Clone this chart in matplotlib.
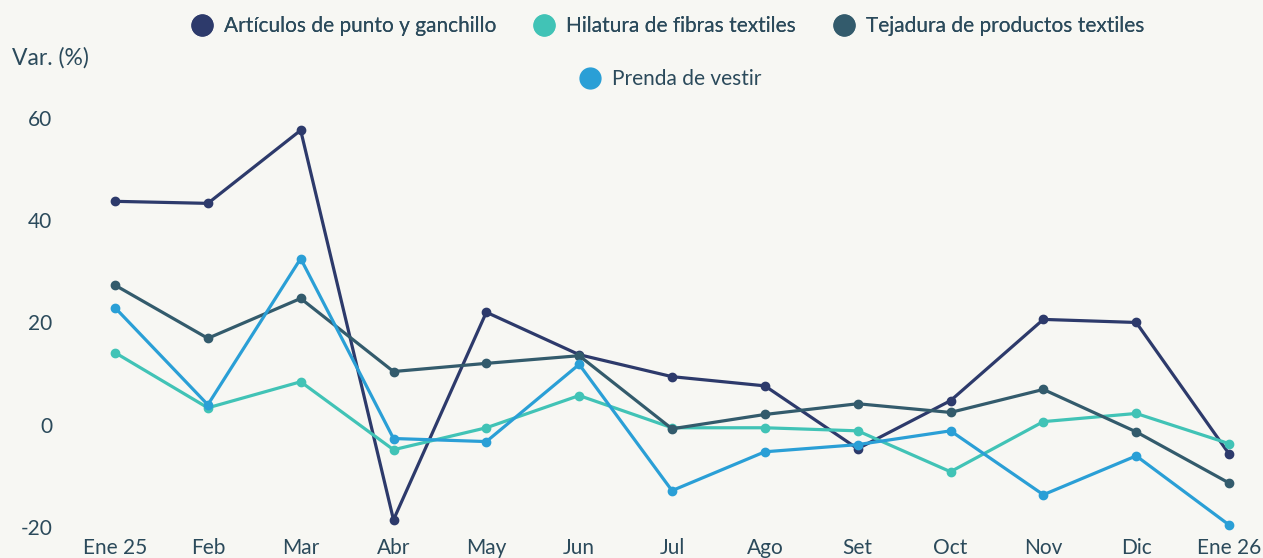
import matplotlib.pyplot as plt
import numpy as np
from matplotlib.lines import Line2D

plt.rcParams['font.family'] = ['Lato', 'DejaVu Sans']

meses = ['Ene 25', 'Feb', 'Mar', 'Abr', 'May', 'Jun', 'Jul', 'Ago', 'Set', 'Oct', 'Nov', 'Dic', 'Ene 26']

articulos = [43.7, 43.3, 57.6, -18.6, 22.0, 13.7, 9.4, 7.6, -4.7, 4.7, 20.6, 20.0, -5.7]
hilatura = [14.1, 3.3, 8.4, -4.9, -0.6, 5.7, -0.6, -0.6, -1.2, -9.2, 0.6, 2.2, -3.7]
tejadura = [27.3, 16.9, 24.7, 10.4, 12.0, 13.5, -0.8, 2.0, 4.1, 2.4, 6.9, -1.4, -11.4]
prenda = [22.9, 3.9, 32.5, -2.7, -3.3, 11.8, -12.9, -5.3, -3.9, -1.2, -13.7, -6.1, -19.6]

nombres = ['Artículos de punto y ganchillo', 'Hilatura de fibras textiles',
           'Tejadura de productos textiles', 'Prenda de vestir']
colores = ['#2d3a6b', '#41c3b6', '#335b6c', '#2a9fd6']

bg = '#f7f7f3'
txt = '#2b4a5b'

fig = plt.figure(figsize=(12.63, 5.58), dpi=100, facecolor=bg)
ax = fig.add_axes([80 / 1263, 28 / 558, 1 - 80 / 1263, 458 / 558])
ax.set_facecolor(bg)

x = np.arange(len(meses))
series = [articulos, hilatura, tejadura, prenda]
# orden de dibujo parecido al original
for i in [2, 1, 3, 0]:
    ax.plot(x, series[i], color=colores[i], lw=2.3, marker='o', ms=6, zorder=3 + i)

ax.set_xlim(-0.377, 12.366)
ax.set_ylim(-20.6, 69.0)
ax.set_xticks(x)
ax.set_xticklabels(meses)
ax.set_yticks([-20, 0, 20, 40, 60])
ax.set_yticklabels(['-20', '0', '20', '40', '60'])
ax.tick_params(length=0, labelsize=15, colors=txt)
ax.tick_params(axis='y', pad=20)
ax.tick_params(axis='x', pad=5.5)
for s in ax.spines.values():
    s.set_visible(False)

fig.text(12 / 1263, 1 - 58 / 558, 'Var. (%)', fontsize=16.5, color=txt, va='center', ha='left')

handles = [Line2D([], [], ls='none', marker='o', ms=15, color=c) for c in colores]
leg1 = fig.legend(handles[:3], nombres[:3], ncol=3, loc='center', bbox_to_anchor=(0.528, 1 - 26 / 558),
                  frameon=False, fontsize=15, labelcolor=txt, handletextpad=0.45, columnspacing=1.7,
                  handlelength=1.2)
fig.legend(handles[3:], nombres[3:], loc='center', bbox_to_anchor=(0.53, 1 - 79 / 558),
           frameon=False, fontsize=15, labelcolor=txt, handletextpad=0.45, handlelength=1.2)
fig.add_artist(leg1)

fig.savefig('out.png', dpi=100, facecolor=bg)
